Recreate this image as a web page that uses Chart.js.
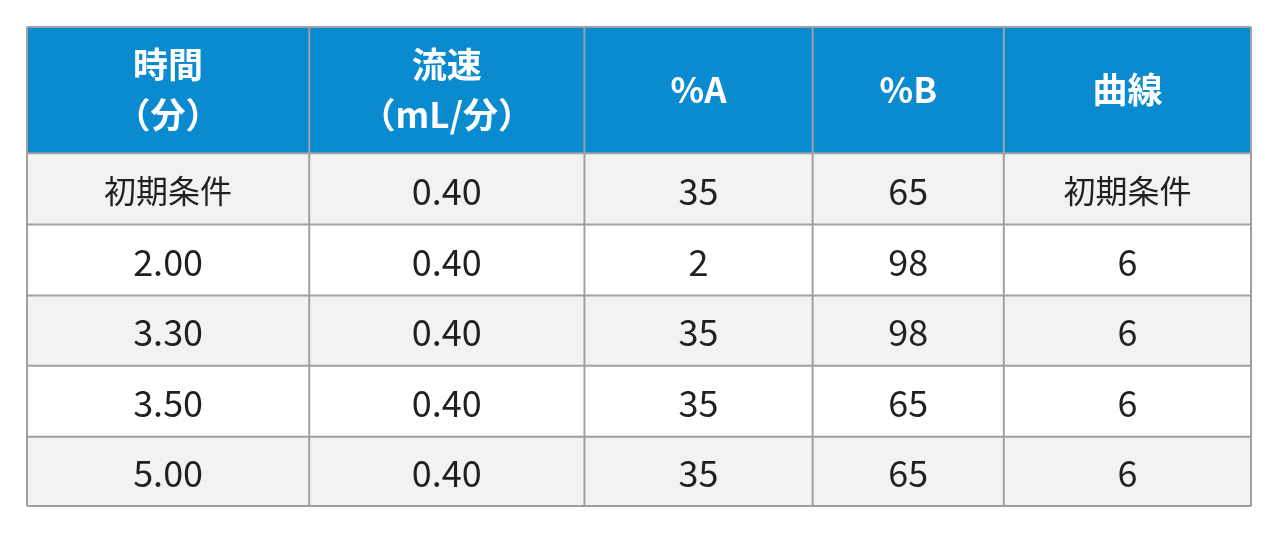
<!DOCTYPE html>
<html>
<head>
<meta charset="utf-8">
<script src="https://cdn.jsdelivr.net/npm/chart.js@4/dist/chart.umd.min.js"></script>
<style>
  body { margin: 0; background: #fff; }
  #wrap { position: absolute; left: 26px; top: 26px; width: 1226px; height: 481px; }
</style>
</head>
<body>
<div id="wrap"><canvas id="tbl"></canvas></div>
<script>
const headers = [["時間", "（分）"], ["流速", "（mL/分）"], ["%A"], ["%B"], ["曲線"]];
const timeCol = ["初期条件", "2.00", "3.30", "3.50", "5.00"];
const flowCol = ["0.40", "0.40", "0.40", "0.40", "0.40"];
const pctA = ["35", "2", "35", "35", "35"];
const pctB = ["65", "98", "98", "65", "65"];
const curveCol = ["初期条件", "6", "6", "6", "6"];

// column edges and row edges in table units
const colEdges = [0, 282, 557, 785, 976, 1223];
const rowEdges = [0, 126, 197, 268, 338, 409, 478];

const columns = [timeCol, flowCol, pctA, pctB, curveCol];
const font = '"Noto Sans CJK JP", "Noto Sans", sans-serif';

const tablePlugin = {
  id: "table",
  afterDraw(chart) {
    const ctx = chart.ctx;
    const xs = chart.scales.x, ys = chart.scales.y;
    const X = v => xs.getPixelForValue(v), Y = v => ys.getPixelForValue(v);
    ctx.save();
    // backgrounds
    for (let r = 0; r < rowEdges.length - 1; r++) {
      ctx.fillStyle = r === 0 ? "#0a8bd0" : (r % 2 === 1 ? "#f2f2f4" : "#ffffff");
      ctx.fillRect(X(0), Y(rowEdges[r]), X(1223) - X(0), Y(rowEdges[r + 1]) - Y(rowEdges[r]));
    }
    // grid lines
    ctx.strokeStyle = "#a0a0a4";
    ctx.lineWidth = 2;
    rowEdges.forEach(e => {
      ctx.beginPath(); ctx.moveTo(X(0), Y(e)); ctx.lineTo(X(1223), Y(e)); ctx.stroke();
    });
    colEdges.forEach(e => {
      ctx.beginPath(); ctx.moveTo(X(e), Y(0)); ctx.lineTo(X(e), Y(478)); ctx.stroke();
    });
    ctx.textAlign = "center";
    ctx.textBaseline = "middle";
    // header
    ctx.fillStyle = "#ffffff";
    ctx.font = "bold 35px " + font;
    headers.forEach((lines, c) => {
      const cx = X((colEdges[c] + colEdges[c + 1]) / 2);
      const cy = Y(rowEdges[0] + 63);
      lines.forEach((t, i) => {
        ctx.fillText(t, cx, cy + (i - (lines.length - 1) / 2) * 50);
      });
    });
    // body
    ctx.fillStyle = "#231f20";
    columns.forEach((col, c) => {
      const cx = X((colEdges[c] + colEdges[c + 1]) / 2);
      col.forEach((t, r) => {
        ctx.font = (/[^\x00-\x7f]/.test(t) ? "32px " : "36px ") + font;
        ctx.fillText(t, cx, Y((rowEdges[r + 1] + rowEdges[r + 2]) / 2) + 2);
      });
    });
    ctx.restore();
  }
};

new Chart(document.getElementById("tbl"), {
  type: "scatter",
  data: { datasets: [{ data: [] }] },
  options: {
    responsive: true,
    maintainAspectRatio: false,
    animation: false,
    layout: { padding: 1 },
    plugins: { legend: { display: false }, tooltip: { enabled: false } },
    scales: {
      x: { type: "linear", min: 0, max: 1223, display: false },
      y: { type: "linear", min: 0, max: 478, reverse: true, display: false }
    }
  },
  plugins: [tablePlugin]
});
</script>
</body>
</html>
